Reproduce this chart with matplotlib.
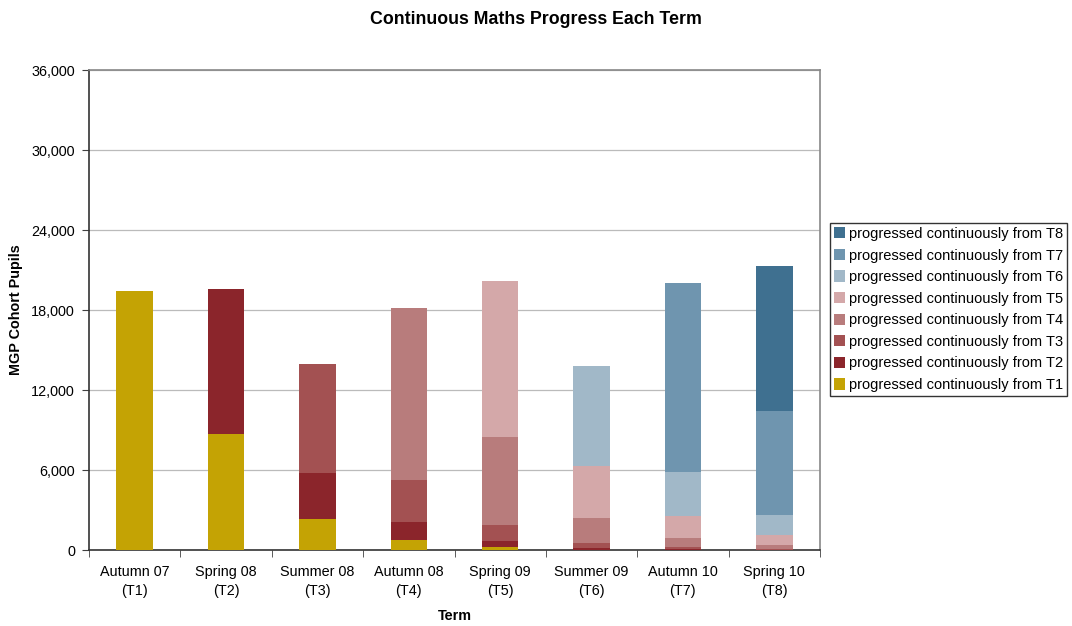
import matplotlib
matplotlib.use("Agg")
import matplotlib.pyplot as plt
import numpy as np
from matplotlib.ticker import FuncFormatter, FixedLocator

plt.rcParams['font.family'] = ['Liberation Sans', 'DejaVu Sans']

terms = ["Autumn 07\n(T1)", "Spring 08\n(T2)", "Summer 08\n(T3)", "Autumn 08\n(T4)",
         "Spring 09\n(T5)", "Summer 09\n(T6)", "Autumn 10\n(T7)", "Spring 10\n(T8)"]

series_names = ["progressed continuously from T1", "progressed continuously from T2",
                "progressed continuously from T3", "progressed continuously from T4",
                "progressed continuously from T5", "progressed continuously from T6",
                "progressed continuously from T7", "progressed continuously from T8"]

from_t1 = [19425, 8700, 2325, 750, 225, 25, 25, 0]
from_t2 = [0, 10875, 3450, 1350, 450, 150, 75, 25]
from_t3 = [0, 0, 8175, 3150, 1200, 350, 150, 50]
from_t4 = [0, 0, 0, 12900, 6600, 1875, 650, 300]
from_t5 = [0, 0, 0, 0, 11700, 3900, 1650, 775]
from_t6 = [0, 0, 0, 0, 0, 7500, 3300, 1475]
from_t7 = [0, 0, 0, 0, 0, 0, 14175, 7800]
from_t8 = [0, 0, 0, 0, 0, 0, 0, 10875]

series = [from_t1, from_t2, from_t3, from_t4, from_t5, from_t6, from_t7, from_t8]
colors = ["#C4A304", "#8B252B", "#A35152", "#B87C7C", "#D4A8A9", "#A1B8C8", "#6F95AF", "#3F7090"]

fig = plt.figure(figsize=(10.72, 6.26), dpi=100)
ax = fig.add_axes([89/1072, 76/626, (820-89)/1072, 480/626])

x = np.arange(len(terms))
bottom = np.zeros(len(terms))
handles = []
for name, vals, c in zip(series_names, series, colors):
    vals = np.array(vals, dtype=float)
    h = ax.bar(x, vals, width=0.4, bottom=bottom, color=c, label=name, zorder=3)
    handles.append(h)
    bottom += vals

ax.set_xlim(-0.5, len(terms) - 0.5)
ax.set_ylim(0, 36000)
ax.set_yticks(np.arange(0, 36001, 6000))
ax.yaxis.set_major_formatter(FuncFormatter(lambda v, p: f"{int(v):,}"))
ax.yaxis.grid(True, color="#BBBBBB", linewidth=0.9, zorder=0)
ax.set_axisbelow(True)

ax.set_xticks(x)
ax.set_xticklabels(terms, fontsize=10.4, linespacing=1.4)
ax.tick_params(axis='x', which='major', length=0, pad=11)
ax.xaxis.set_minor_locator(FixedLocator(np.arange(-0.5, len(terms), 1.0)))
ax.tick_params(axis='x', which='minor', length=5, direction='out', color='#404040')
ax.tick_params(axis='y', length=5, direction='out', labelsize=10.4, color='#404040', pad=5)

for s in ['top', 'right']:
    ax.spines[s].set_color('#888888')
    ax.spines[s].set_linewidth(1.2)
for s in ['left', 'bottom']:
    ax.spines[s].set_color('#333333')
    ax.spines[s].set_linewidth(1.2)

ax.set_xlabel("Term", fontsize=10.4, fontweight='bold', labelpad=8)
ax.set_ylabel("MGP Cohort Pupils", fontsize=10.4, fontweight='bold', labelpad=6)
fig.suptitle("Continuous Maths Progress Each Term", fontsize=12.8, fontweight='bold',
             x=0.5, y=0.982)

leg = fig.legend(handles[::-1], series_names[::-1], loc='center left',
                 bbox_to_anchor=(830/1072, 1 - 309.5/626), fontsize=10.5,
                 frameon=True, fancybox=False, edgecolor='black',
                 handlelength=0.75, handleheight=0.8, handletextpad=0.25,
                 labelspacing=0.52, borderpad=0.3, borderaxespad=0)
leg.get_frame().set_linewidth(1.0)

fig.savefig("out.png", dpi=100)
